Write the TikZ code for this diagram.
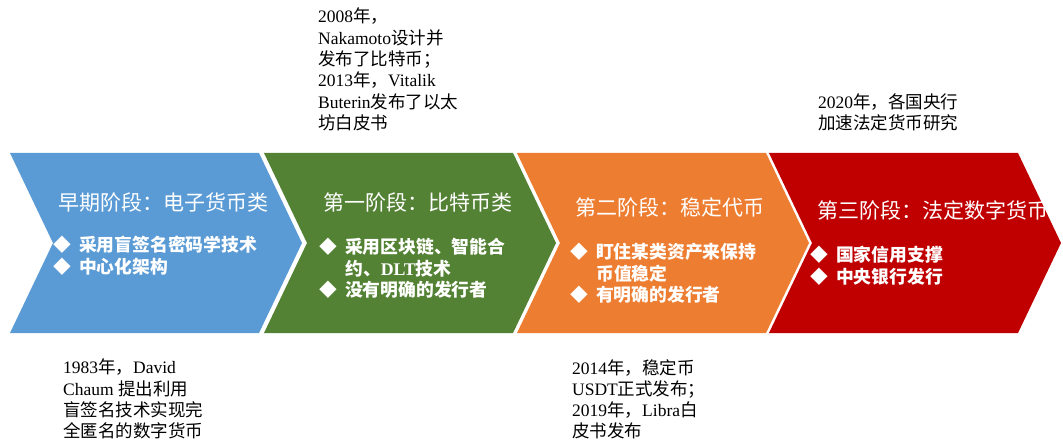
\documentclass[tikz,border=0pt]{standalone}
\usepackage{fontspec}
\setmainfont{Liberation Serif}
\newfontfamily\cjk{Noto Sans CJK SC}
\newcommand\zh[1]{{\cjk #1}}
\newcommand\bul{\makebox[26pt][l]{\cjk ◆}}
\newcommand\indt{\hspace*{26pt}}
\definecolor{cblue}{HTML}{5B9BD5}
\definecolor{cgreen}{HTML}{548235}
\definecolor{corange}{HTML}{ED7D31}
\definecolor{cred}{HTML}{C00000}
\begin{document}
\begin{tikzpicture}[x=1pt,y=-1pt,
  note/.style={anchor=north west, inner sep=0pt, align=left, text=black,
    font=\fontsize{17.5}{21.3}\selectfont},
  stagetitle/.style={anchor=west, inner sep=0pt, text=white,
    font=\fontsize{21}{25}\selectfont},
  bullets/.style={anchor=north west, inner sep=0pt, align=left, text=white,
    font=\fontsize{17.8}{21.5}\selectfont\bfseries}]
\useasboundingbox (0,0) rectangle (1063,441);
\clip (0,0) rectangle (1063,441);
\foreach \L/\c in {10/cblue, 264/cgreen, 517/corange, 769/cred}{
  \fill[\c] (\L,153) -- ++(249,0) -- ++(43,90) -- ++(-43,90) -- ++(-249,0) -- ++(43,-90) -- cycle;
}
% titles
\node[stagetitle] (t0) at (58,202) {\zh{早期阶段：电子货币类}};
\node[stagetitle] (t1) at (323,202) {\zh{第一阶段：比特币类}};
\node[stagetitle] (t2) at (575,207) {\zh{第二阶段：稳定代币}};
\node[stagetitle] (t3) at (817,210) {\zh{第三阶段：法定数字货币}};
% bullets
\node[bullets] (b0) at (53,236) {\bul\zh{采用盲签名密码学技术}\\\bul\zh{中心化架构}};
\node[bullets] (b1) at (319,238) {\bul\zh{采用区块链、智能合}\\\indt\zh{约、}DLT\zh{技术}\\\bul\zh{没有明确的发行者}};
\node[bullets] (b2) at (570,243) {\bul\zh{盯住某类资产来保持}\\\indt\zh{币值稳定}\\\bul\zh{有明确的发行者}};
\node[bullets] (b3) at (810,246) {\bul\zh{国家信用支撑}\\\bul\zh{中央银行发行}};
% notes
\node[note] (n1) at (318,8) {2008\zh{年，}\\Nakamoto\zh{设计并}\\\zh{发布了比特币；}\\2013\zh{年，}Vitalik\\Buterin\zh{发布了以太}\\\zh{坊白皮书}};
\node[note] (n3) at (818,93) {2020\zh{年，各国央行}\\\zh{加速法定货币研究}};
\node[note] (n0) at (63,359) {1983\zh{年，}David\\Chaum \zh{提出利用}\\\zh{盲签名技术实现完}\\\zh{全匿名的数字货币}};
\node[note] (n2) at (572,359) {2014\zh{年，稳定币}\\USDT\zh{正式发布；}\\2019\zh{年，}Libra\zh{白}\\\zh{皮书发布}};
\end{tikzpicture}
\end{document}
